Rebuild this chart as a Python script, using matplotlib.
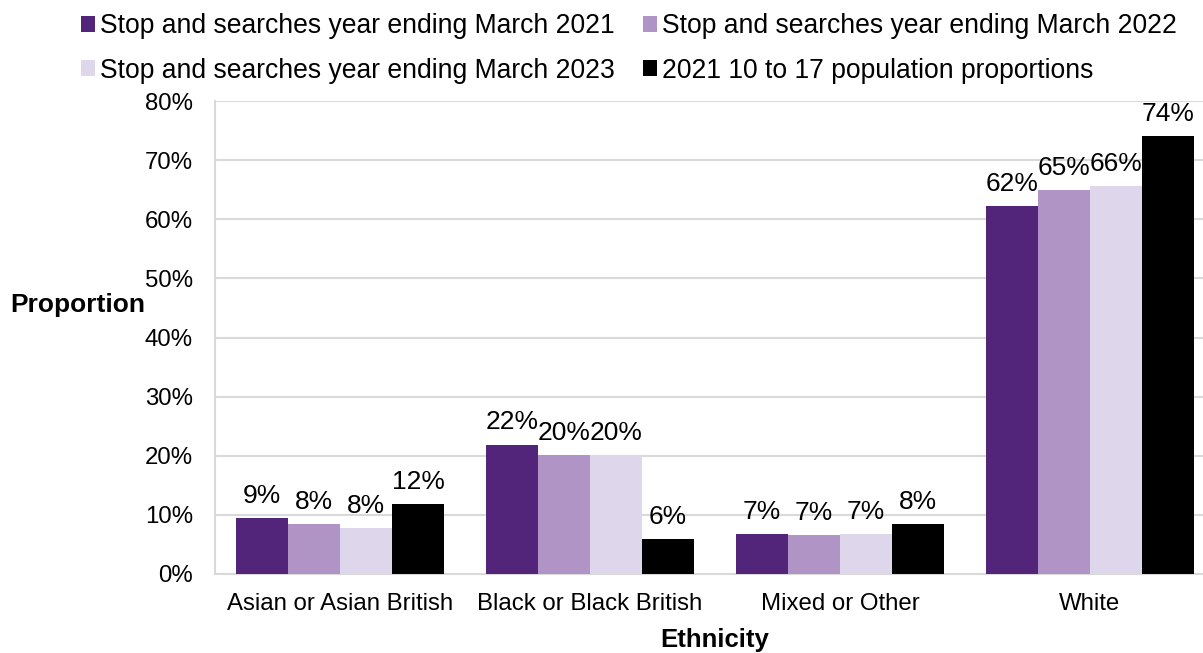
import matplotlib
matplotlib.use("Agg")
import matplotlib.pyplot as plt
from matplotlib.patches import Patch
import numpy as np

plt.rcParams['font.family'] = ['Liberation Sans', 'DejaVu Sans']

categories = ["Asian or Asian British", "Black or Black British", "Mixed or Other", "White"]
series_names = [
    "Stop and searches year ending March 2021",
    "Stop and searches year ending March 2022",
    "Stop and searches year ending March 2023",
    "2021 10 to 17 population proportions",
]
ss_2021 = [9.4, 21.9, 6.7, 62.2]
ss_2022 = [8.4, 20.1, 6.6, 65.0]
ss_2023 = [7.8, 20.1, 6.7, 65.6]
pop_2021 = [11.8, 5.9, 8.4, 74.0]
colors = ["#52247A", "#B094C6", "#DED6EB", "#000000"]

series = [ss_2021, ss_2022, ss_2023, pop_2021]

W, H = 1203, 653
fig = plt.figure(figsize=(W / 100, H / 100), dpi=100)
ax = fig.add_axes([215 / W, (H - 574) / H, 1000 / W, (574 - 101) / H])

x = np.arange(len(categories))
bw = 0.208
for i, (vals, c) in enumerate(zip(series, colors)):
    pos = x + (i - 1.5) * bw
    ax.bar(pos, vals, width=bw, color=c, zorder=3)
    for p, v in zip(pos, vals):
        ax.text(p, v + 1.7, f"{v:.0f}%", ha="center", va="bottom", fontsize=19, zorder=4)

ax.set_xlim(-0.5, 3.5)
ax.set_ylim(0, 80)
ax.set_yticks(np.arange(0, 81, 10))
ax.set_yticklabels([f"{t}%" for t in range(0, 81, 10)], fontsize=17.3)
ax.set_xticks(x)
ax.set_xticklabels(categories, fontsize=17.3)
ax.tick_params(axis="y", length=0, pad=16)
ax.tick_params(axis="x", length=0, pad=14)
ax.grid(axis="y", color="#D9D9D9", linewidth=1.5, zorder=0)
for s in ["top", "right"]:
    ax.spines[s].set_visible(False)
for s in ["left", "bottom"]:
    ax.spines[s].set_color("#D9D9D9")
    ax.spines[s].set_linewidth(1.5)

fig.text(10 / W, 1 - 305 / H, "Proportion", fontsize=19, fontweight="bold", ha="left", va="center")
fig.text(715 / W, 1 - 640 / H, "Ethnicity", fontsize=18.5, fontweight="bold", ha="center", va="center")

# two-column legend filled row by row
order = [0, 2, 1, 3]
handles = [Patch(facecolor=colors[k]) for k in order]
labels = [series_names[k] for k in order]
fig.legend(handles, labels, ncol=2, loc="upper left",
           bbox_to_anchor=(68 / W, 1.0), frameon=False, fontsize=19.1,
           handlelength=0.53, handleheight=0.53, handletextpad=0.19,
           columnspacing=1.05, labelspacing=0.69, borderaxespad=0.1)

fig.savefig("out.png", dpi=100)
